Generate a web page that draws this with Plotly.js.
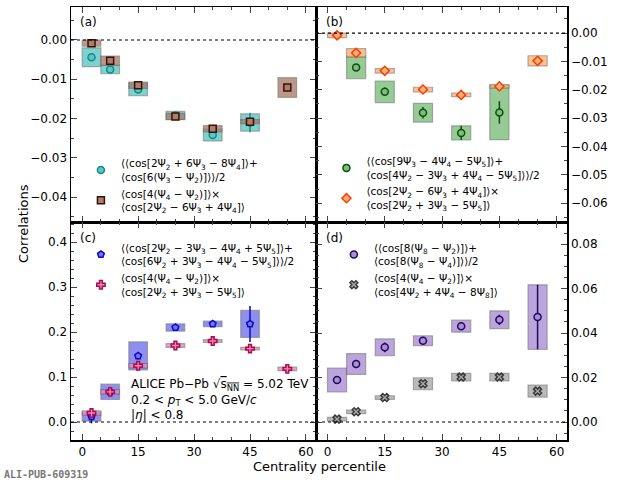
<!DOCTYPE html>
<html><head><meta charset="utf-8">
<script src="https://cdn.plot.ly/plotly-3.0.1.min.js"></script>
<style>body{margin:0}#plot{width:620px;height:487px}</style>
</head><body><div id="plot"></div>
<script>
/* ── data: centrality bins, values, stat errors, syst half-heights ── */
const CENT = [2.5, 7.5, 15, 25, 35, 45, 55];

const A1_X = [2.5, 7.5, 15, 25, 35, 45];
const A1_Y = [-0.0044, -0.0075, -0.0126, -0.0192, -0.0242, -0.0210];
const A1_STAT = [0.0005, 0.0005, 0.0006, 0.0005, 0.0008, 0.0025];
const A1_SYS = [0.0024, 0.0011, 0.0016, 0.0010, 0.0015, 0.0022];
const A2_Y = [-0.0008, -0.0053, -0.0115, -0.0195, -0.0226, -0.0208, -0.0121];
const A2_STAT = [0.0003, 0.0004, 0.0005, 0.0004, 0.0005, 0.0007, 0.0008];
const A2_SYS = [0.0008, 0.0012, 0.0008, 0.0008, 0.0008, 0.0005, 0.0025];

const B1_X = [7.5, 15, 25, 35, 45];
const B1_Y = [-0.0121, -0.0207, -0.0281, -0.0352, -0.0280];
const B1_STAT = [0.0007, 0.0015, 0.0020, 0.0025, 0.0040];
const B1_SYS = [0.0040, 0.0038, 0.0033, 0.0025, 0.0096];
const B2_Y = [-0.0008, -0.0070, -0.0133, -0.0199, -0.0218, -0.0188, -0.0098];
const B2_STAT = [0.0004, 0.0005, 0.0005, 0.0004, 0.0004, 0.0005, 0.0007];
const B2_SYS = [0.0008, 0.0015, 0.0008, 0.0008, 0.0006, 0.0006, 0.0018];

const C1_X = [2.5, 7.5, 15, 25, 35, 45];
const C1_Y = [0.012, 0.067, 0.147, 0.210, 0.218, 0.218];
const C1_STAT = [0.015, 0.008, 0.008, 0.006, 0.006, 0.040];
const C1_SYS = [0.010, 0.017, 0.031, 0.008, 0.006, 0.030];
const C2_Y = [0.020, 0.067, 0.125, 0.170, 0.180, 0.163, 0.118];
const C2_STAT = [0.004, 0.003, 0.003, 0.003, 0.003, 0.003, 0.003];
const C2_SYS = [0.005, 0.005, 0.005, 0.004, 0.003, 0.003, 0.004];

const D1_Y = [0.0189, 0.0261, 0.0336, 0.0366, 0.0431, 0.0460, 0.0472];
const D1_STAT = [0.0015, 0.0010, 0.0022, 0.0015, 0.0015, 0.0023, 0.0145];
const D1_SYS = [0.0054, 0.0047, 0.0038, 0.0022, 0.0027, 0.0040, 0.0145];
const D2_Y = [0.0013, 0.0046, 0.0110, 0.0172, 0.0202, 0.0202, 0.0139];
const D2_STAT = [0.0004, 0.0004, 0.0004, 0.0007, 0.0006, 0.0006, 0.0010];
const D2_SYS = [0.0008, 0.0008, 0.0008, 0.0027, 0.0017, 0.0017, 0.0027];

const LBL = {
    a1: '⟨⟨cos[2Ψ<sub>2</sub> + 6Ψ<sub>3</sub> − 8Ψ<sub>4</sub>]⟩+<br>⟨cos[6(Ψ<sub>3</sub> − Ψ<sub>2</sub>)]⟩⟩/2',
    a2: '⟨cos[4(Ψ<sub>4</sub> − Ψ<sub>2</sub>)]⟩×<br>⟨cos[2Ψ<sub>2</sub> − 6Ψ<sub>3</sub> + 4Ψ<sub>4</sub>]⟩',
    b1: '⟨⟨cos[9Ψ<sub>3</sub> − 4Ψ<sub>4</sub> − 5Ψ<sub>5</sub>]⟩+<br>⟨cos[4Ψ<sub>2</sub> − 3Ψ<sub>3</sub> + 4Ψ<sub>4</sub> − 5Ψ<sub>5</sub>]⟩⟩/2',
    b2: '⟨cos[2Ψ<sub>2</sub> − 6Ψ<sub>3</sub> + 4Ψ<sub>4</sub>]⟩×<br>⟨cos[2Ψ<sub>2</sub> + 3Ψ<sub>3</sub> − 5Ψ<sub>5</sub>]⟩',
    c1: '⟨⟨cos[2Ψ<sub>2</sub> − 3Ψ<sub>3</sub> − 4Ψ<sub>4</sub> + 5Ψ<sub>5</sub>]⟩+<br>⟨cos[6Ψ<sub>2</sub> + 3Ψ<sub>3</sub> − 4Ψ<sub>4</sub> − 5Ψ<sub>5</sub>]⟩⟩/2',
    c2: '⟨cos[4(Ψ<sub>4</sub> − Ψ<sub>2</sub>)]⟩×<br>⟨cos[2Ψ<sub>2</sub> + 3Ψ<sub>3</sub> − 5Ψ<sub>5</sub>]⟩',
    d1: '⟨⟨cos[8(Ψ<sub>8</sub> − Ψ<sub>2</sub>)]⟩+<br>⟨cos[8(Ψ<sub>8</sub> − Ψ<sub>4</sub>)]⟩⟩/2',
    d2: '⟨cos[4(Ψ<sub>4</sub> − Ψ<sub>2</sub>)]⟩×<br>⟨cos[4Ψ<sub>2</sub> + 4Ψ<sub>4</sub> − 8Ψ<sub>8</sub>]⟩'
};

const traces = [];
function series(ax, x, y, stat, sys, boxCol, mkCol, symbol, name, legend) {
    const xa = ax === 1 ? 'x' : 'x' + ax, ya = ax === 1 ? 'y' : 'y' + ax;
    traces.push({
        type: 'bar', x: x, y: sys.map(s => 2 * s), base: y.map((v, i) => v - sys[i]),
        width: 5, xaxis: xa, yaxis: ya, showlegend: false, hoverinfo: 'skip',
        marker: { color: boxCol, opacity: 0.8, line: { color: 'rgba(90,90,90,0.6)', width: 1.2 } }
    });
    traces.push({
        type: 'scatter', mode: 'markers', x: x, y: y, xaxis: xa, yaxis: ya,
        name: name, legend: legend,
        error_y: { type: 'data', array: stat, color: mkCol, thickness: 1.5, width: 0 },
        marker: { symbol: symbol, size: 7, color: boxCol, line: { color: mkCol, width: 1.5 } }
    });
}

series(1, A1_X, A1_Y, A1_STAT, A1_SYS, '#5cc8c4', '#148a86', 'circle', LBL.a1, 'legend');
series(1, CENT, A2_Y, A2_STAT, A2_SYS, '#a97f6e', '#3d0f08', 'square', LBL.a2, 'legend');
series(2, B1_X, B1_Y, B1_STAT, B1_SYS, '#7cbf7c', '#0f4d0f', 'circle', LBL.b1, 'legend2');
series(2, CENT, B2_Y, B2_STAT, B2_SYS, '#ffb478', '#ff3a00', 'diamond', LBL.b2, 'legend2');
series(3, C1_X, C1_Y, C1_STAT, C1_SYS, '#7474ea', '#0a0ac8', 'pentagon', LBL.c1, 'legend3');
series(3, CENT, C2_Y, C2_STAT, C2_SYS, '#e58cbc', '#b00a4a', 'cross', LBL.c2, 'legend3');
series(4, CENT, D1_Y, D1_STAT, D1_SYS, '#ab8fd4', '#1e0a5e', 'circle', LBL.d1, 'legend4');
series(4, CENT, D2_Y, D2_STAT, D2_SYS, '#aaaaaa', '#3a3a3a', 'x', LBL.d2, 'legend4');

const FONT = { family: 'DejaVu Sans', size: 11, color: '#000' };
const XD = [[0, 0.494], [0.494, 1]], YD = [[0.503, 1], [0, 0.503]];
function xax(col, anchor, labels) {
    return {
        domain: XD[col], anchor: anchor, range: [-3, 62.7], tickvals: [0, 15, 30, 45, 60],
        showticklabels: labels, ticks: 'inside', ticklen: 6, mirror: 'allticks',
        showline: true, linecolor: '#000', linewidth: 1.5, showgrid: false, zeroline: false,
        minor: { dtick: 5, tick0: 0, ticks: 'inside', ticklen: 3 },
        tickfont: { size: 12 }
    };
}
function yax(row, anchor, range, vals, fmt, right) {
    return {
        domain: YD[row], anchor: anchor, range: range, tickvals: vals, tickformat: fmt,
        side: right ? 'right' : 'left', ticks: 'inside', ticklen: 6, mirror: 'allticks',
        showline: true, linecolor: '#000', linewidth: 1.5, showgrid: false, zeroline: false,
        minor: { nticks: 5, ticks: 'inside', ticklen: 3 }, tickfont: { size: 12 }
    };
}
function leg(x, y) {
    return { x: x, y: y, xanchor: 'left', yanchor: 'top', bgcolor: 'rgba(0,0,0,0)',
             font: { size: 10.5 }, tracegroupgap: 2, itemwidth: 30 };
}
function zero(ax) {
    const xa = ax === 1 ? 'x' : 'x' + ax, ya = ax === 1 ? 'y' : 'y' + ax;
    return { type: 'line', xref: xa + ' domain', x0: 0, x1: 1, yref: ya, y0: 0, y1: 0,
             line: { color: '#000', width: 1.2, dash: 'dot' } };
}
function tag(ax, t) {
    return { text: t, xref: (ax === 1 ? 'x' : 'x' + ax) + ' domain', yref: (ax === 1 ? 'y' : 'y' + ax) + ' domain',
             x: 0.03, y: 0.97, xanchor: 'left', yanchor: 'top', showarrow: false, font: { size: 12 } };
}

const layout = {
    width: 620, height: 487, font: FONT,
    paper_bgcolor: '#fff', plot_bgcolor: '#fff',
    margin: { l: 71, r: 53, t: 7, b: 47 },
    barmode: 'overlay',
    xaxis: xax(0, 'y', false), xaxis2: xax(1, 'y2', false),
    xaxis3: xax(0, 'y3', true), xaxis4: xax(1, 'y4', true),
    yaxis: yax(0, 'x', [-0.0464, 0.0084], [0, -0.01, -0.02, -0.03, -0.04], '.2f', false),
    yaxis2: yax(0, 'x2', [-0.0667, 0.0092], [0, -0.01, -0.02, -0.03, -0.04, -0.05, -0.06], '.2f', true),
    yaxis3: yax(1, 'x3', [-0.04, 0.444], [0, 0.1, 0.2, 0.3, 0.4], '.1f', false),
    yaxis4: yax(1, 'x4', [-0.0081, 0.0899], [0, 0.02, 0.04, 0.06, 0.08], '.2f', true),
    legend: leg(0.02, 0.67), legend2: leg(0.515, 0.675),
    legend3: leg(0.02, 0.475), legend4: leg(0.53, 0.475),
    shapes: [zero(1), zero(2), zero(3), zero(4)],
    annotations: [
        tag(1, '(a)'), tag(2, '(b)'), tag(3, '(c)'), tag(4, '(d)'),
        { text: 'ALICE Pb−Pb √<span style="text-decoration:overline">s<sub>NN</sub></span> = 5.02 TeV<br>0.2 < <i>p</i><sub>T</sub> < 5.0 GeV/<i>c</i><br>|<i>η</i>| < 0.8',
          xref: 'x3', yref: 'y3', x: 12.5, y: 0.105, xanchor: 'left', yanchor: 'top',
          align: 'left', showarrow: false, font: { size: 12 } },
        { text: 'Correlations', xref: 'paper', yref: 'paper', x: -0.115, y: 0.5, textangle: -90,
          showarrow: false, font: { size: 13 } },
        { text: 'Centrality percentile', xref: 'paper', yref: 'paper', x: 0.5, y: -0.062,
          yanchor: 'middle', showarrow: false, font: { size: 13 } },
        { text: '<b>ALI-PUB-609319</b>', xref: 'paper', yref: 'paper', x: -0.14, y: -0.08,
          xanchor: 'left', yanchor: 'middle', showarrow: false,
          font: { family: 'DejaVu Sans Mono', size: 10, color: '#777' } }
    ]
};

Plotly.newPlot('plot', traces, layout, { displayModeBar: false, staticPlot: true });
</script></body></html>
